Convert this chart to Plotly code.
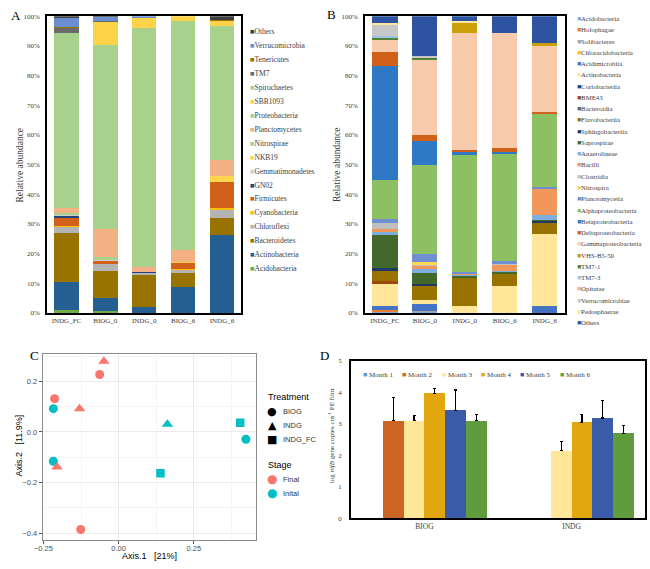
import plotly.graph_objects as go

W, H = 650, 569
SERIF = "Liberation Serif, Times New Roman, serif"
SANS = "Liberation Sans, Arial, sans-serif"
TXT = "#404040"

SAMPLES = ["INDG_FC", "BIOG_0", "INDG_0", "BIOG_6", "INDG_6"]

# ---- panel A: phylum level, relative abundance (%), listed bottom -> top of stack
PHYLA = ["Acidobacteria", "Actinobacteria", "Bacteroidetes", "Chloroflexi", "Cyanobacteria",
         "Firmicutes", "GN02", "Gemmatimonadetes", "NKB19", "Nitrospirae", "Planctomycetes",
         "Proteobacteria", "SBR1093", "Spirochaetes", "TM7", "Tenericutes", "Verrucomicrobia",
         "Others"]
PHYLA_COLORS = ["#70AD47", "#255E91", "#997300", "#B4B4B4", "#FFC000",
                "#D0601A", "#264478", "#CFCFCF", "#FFD54F", "#A9D18E", "#F4B183",
                "#A9D18E", "#FFD347", "#A9D18E", "#6B6B6B", "#997300", "#6A8ED0",
                "#404040"]
A_INDG_FC = [1.0, 9.3, 16.7, 2.0, 0.5, 2.8, 0.5, 0.3, 0.2, 0.3, 1.7, 58.6, 0.2, 0.3, 1.8, 0.2, 3.2, 0.6]
A_BIOG_0 = [0.5, 4.5, 9.2, 2.2, 0.0, 1.1, 0.2, 0.2, 0.0, 1.0, 9.5, 62.0, 7.9, 0.0, 0.3, 0.0, 1.3, 0.3]
A_INDG_0 = [0.0, 2.0, 10.9, 0.5, 0.0, 0.3, 0.2, 0.0, 0.0, 0.0, 1.6, 80.5, 3.3, 0.0, 0.0, 0.0, 0.7, 0.0]
A_BIOG_6 = [0.0, 8.6, 4.8, 1.1, 0.3, 2.0, 0.0, 0.3, 0.2, 0.0, 4.0, 77.2, 1.5, 0.0, 0.0, 0.0, 0.0, 0.0]
A_INDG_6 = [0.0, 26.2, 5.8, 2.6, 0.7, 8.9, 0.0, 0.0, 2.0, 0.0, 5.2, 45.2, 1.9, 0.0, 0.0, 0.3, 0.0, 1.2]

# ---- panel B: class level, bottom -> top of stack
CLASSES = ["Acidobacteria", "Holophagae", "Solibacteres", "Chloracidobacteria", "Acidimicrobiia",
           "Actinobacteria", "Coriobacteriia", "BME43", "Bacteroidia", "Flavobacteriia",
           "Sphingobacteriia", "Saprospirae", "Anaerolineae", "Bacilli", "Clostridia",
           "Nitrospira", "Planctomycetia", "Alphaproteobacteria", "Betaproteobacteria",
           "Deltaproteobacteria", "Gammaproteobacteria", "VHS-B5-50", "TM7-1", "TM7-3",
           "Opitutae", "Verrucomicrobiae", "Pedosphaerae", "Others"]
CLASS_COLORS = ["#7DAEDC", "#ED7D31", "#A5A5A5", "#FFC000", "#4472C4",
                "#FFE699", "#264478", "#9E480E", "#636363", "#997300",
                "#1F3864", "#43682B", "#7DAFDE", "#F1975A", "#BFBFBF",
                "#FFD54F", "#6F8FD0", "#8CC063", "#2F78C4",
                "#D0601A", "#F8CBAD", "#C9A00A", "#548235", "#9DC3E6",
                "#F4B183", "#C8C8C8", "#FFE699", "#2E54A1"]
B_INDG_FC = [0.3, 0.7, 0.0, 0.0, 1.4, 7.2, 0.0, 1.1, 0.0, 3.5, 0.9, 11.1, 0.9, 1.1, 2.2, 0.0,
             1.4, 13.0, 38.3, 4.7, 4.0, 0.0, 1.1, 0.3, 0.0, 3.9, 0.5, 2.4]
B_BIOG_0 = [0.4, 0.0, 0.3, 0.0, 2.3, 1.3, 0.0, 0.0, 0.0, 4.8, 0.8, 3.7, 1.3, 1.1, 0.3, 0.9,
            2.7, 30.0, 8.3, 1.9, 25.5, 0.0, 0.5, 0.0, 0.0, 0.7, 0.0, 13.5]
B_INDG_0 = [0.0, 0.0, 0.0, 0.0, 0.0, 2.2, 0.0, 0.0, 0.0, 9.6, 0.0, 0.7, 0.3, 0.2, 0.0, 0.0,
            0.9, 39.4, 1.1, 0.5, 39.4, 3.6, 0.0, 0.0, 0.0, 0.0, 0.5, 1.7]
B_BIOG_6 = [0.0, 0.0, 0.0, 0.0, 0.0, 8.9, 0.0, 0.0, 0.0, 4.1, 0.0, 0.8, 0.4, 2.0, 0.4, 0.0,
            0.9, 36.2, 0.6, 1.1, 39.0, 0.0, 0.0, 0.0, 0.0, 0.0, 0.0, 5.6]
B_INDG_6 = [0.0, 0.0, 0.0, 0.0, 2.4, 24.2, 0.0, 0.0, 0.0, 3.9, 0.6, 0.4, 1.4, 8.9, 0.0, 0.0,
            0.8, 24.6, 0.0, 0.7, 22.1, 1.1, 0.0, 0.0, 0.0, 0.0, 0.0, 9.1]

# ---- panel C: PCoA
PC_TREATMENT = ["INDG", "BIOG", "BIOG", "BIOG", "INDG", "INDG",
                "INDG_FC", "BIOG", "BIOG", "INDG", "INDG_FC", "BIOG"]
PC_STAGE = ["Final", "Final", "Final", "Inital", "Final", "Inital",
            "Inital", "Inital", "Inital", "Final", "Inital", "Final"]
PC_AXIS1 = [-0.049, -0.063, -0.213, -0.217, -0.130, 0.162, 0.404, 0.423, -0.217, -0.205, 0.139, -0.126]
PC_AXIS2 = [0.279, 0.227, 0.131, 0.092, 0.092, 0.030, 0.036, -0.029, -0.116, -0.139, -0.163, -0.386]

# ---- panel D: nifB copies
D_GROUPS = ["BIOG", "INDG"]
MONTHS = ["Month 1", "Month 2", "Month 3", "Month 4", "Month 5", "Month 6"]
MONTH_COLORS = ["#5B9BD5", "#CC6424", "#FFE699", "#E2A70F", "#3A5CA8", "#609B3E"]
D_BIOG_MEAN = [None, 3.10, 3.10, 3.97, 3.42, 3.10]
D_BIOG_ERR = [None, 0.74, 0.15, 0.15, 0.65, 0.20]
D_INDG_MEAN = [None, None, 2.15, 3.04, 3.18, 2.69]
D_INDG_ERR = [None, None, 0.28, 0.24, 0.56, 0.26]


def px(x):
    return x / W


def py(y):
    return 1 - y / H


def pct(sample):
    total = sum(sample)
    return [v / total * 100 for v in sample]


fig = go.Figure()

# stacked bars A and B
for cols, names, colors, xa, ya in [
    ([pct(s) for s in (A_INDG_FC, A_BIOG_0, A_INDG_0, A_BIOG_6, A_INDG_6)], PHYLA, PHYLA_COLORS, "x", "y"),
    ([pct(s) for s in (B_INDG_FC, B_BIOG_0, B_INDG_0, B_BIOG_6, B_INDG_6)], CLASSES, CLASS_COLORS, "x2", "y2"),
]:
    for i, (name, color) in enumerate(zip(names, colors)):
        fig.add_bar(x=SAMPLES, y=[c[i] for c in cols], name=name, width=0.63,
                    marker=dict(color=color, line_width=0), xaxis=xa, yaxis=ya, showlegend=False)

# PCoA scatter
SYMBOLS = {"BIOG": ("circle", 9), "INDG": ("triangle-up", 10), "INDG_FC": ("square", 8.5)}
STAGE_COLORS = {"Final": "#F8766D", "Inital": "#00BFC4"}
for t, (sym, size) in SYMBOLS.items():
    for s, color in STAGE_COLORS.items():
        idx = [k for k in range(len(PC_AXIS1)) if PC_TREATMENT[k] == t and PC_STAGE[k] == s]
        if not idx:
            continue
        fig.add_scatter(x=[PC_AXIS1[k] for k in idx], y=[PC_AXIS2[k] for k in idx], mode="markers",
                        marker=dict(symbol=sym, size=size, color=color, line_width=0),
                        xaxis="x3", yaxis="y3", showlegend=False)

# grouped bars D (one offsetgroup per month)
for i, (m, color) in enumerate(zip(MONTHS, MONTH_COLORS)):
    fig.add_bar(x=D_GROUPS, y=[D_BIOG_MEAN[i], D_INDG_MEAN[i]], name=m, offsetgroup=m,
                marker=dict(color=color, line_width=0),
                error_y=dict(type="data", array=[D_BIOG_ERR[i], D_INDG_ERR[i]], arrayminus=[0, 0],
                             symmetric=False, color="black", thickness=1.2, width=1.5),
                xaxis="x4", yaxis="y4", showlegend=False)

box = dict(showline=True, mirror=True, linecolor="black", linewidth=1.5,
           zeroline=False, showgrid=False, ticks="")
serif_tick = dict(family=SERIF, size=7, color=TXT)
ggrid = dict(showline=True, mirror=True, linecolor="#8C8C8C", linewidth=1.3, zeroline=False,
             showgrid=True, gridcolor="#EBEBEB", gridwidth=1, ticks="outside", ticklen=3,
             tickcolor="#555555", tickfont=dict(family=SANS, size=7.5, color="#4D4D4D"))

fig.update_layout(
    width=W, height=H, margin=dict(l=0, r=0, t=0, b=0, pad=0),
    paper_bgcolor="white", plot_bgcolor="white", showlegend=False,
    barmode="stack", bargap=0.15, bargroupgap=0,
    xaxis=dict(domain=[px(38.5), px(235.7)], anchor="y", tickfont=serif_tick, **box),
    yaxis=dict(domain=[py(313.3), py(12.3)], anchor="x", range=[0, 100], dtick=10, ticksuffix="%",
               tickfont=serif_tick, ticklabelstandoff=4, **box),
    xaxis2=dict(domain=[px(361), px(563.5)], anchor="y2", tickfont=serif_tick, **box),
    yaxis2=dict(domain=[py(313.3), py(12.3)], anchor="x2", range=[0, 100], dtick=10, ticksuffix="%",
                tickfont=serif_tick, ticklabelstandoff=4, **box),
    xaxis3=dict(domain=[px(34.3), px(250)], anchor="y3", range=[-0.252, 0.455], dtick=0.25, tick0=0,
                tickformat=".2f", ticklabelstandoff=-2,
                minor=dict(dtick=0.125, tick0=0, showgrid=True, gridcolor="#F5F5F5"), **ggrid),
    yaxis3=dict(domain=[py(543.3), py(355)], anchor="x3", range=[-0.426, 0.308], dtick=0.2, tick0=0,
                tickformat=".1f", minor=dict(dtick=0.1, tick0=0, showgrid=True, gridcolor="#F5F5F5"),
                **ggrid),
    xaxis4=dict(domain=[px(346.7), px(645)], anchor="y4", tickfont=dict(family=SERIF, size=7.5, color=TXT),
                **box),
    yaxis4=dict(domain=[py(521.7), py(361.7)], anchor="x4", range=[0, 5], dtick=1,
                tickfont=serif_tick, ticklabelstandoff=6, **box),
)

ann = []


def text(x, y, s, size, family=SERIF, color=TXT, angle=0, xanchor="center"):
    ann.append(dict(x=px(x), y=py(y), xref="paper", yref="paper", text=s, showarrow=False,
                    font=dict(family=family, size=size, color=color), textangle=angle,
                    xanchor=xanchor, yanchor="middle"))


# panel letters
for letter, x, y in [("A", 7, 12), ("B", 327, 11), ("C", 26, 357), ("D", 320, 357)]:
    text(x, y, letter, 13, color="black")

# axis titles
text(11, 163, "Relative abundance", 9.5, angle=-90)
text(332, 163, "Relative abundance", 9.5, angle=-90)
text(10, 448, "Axis.2\u00a0\u00a0\u00a0[11.9%]", 9, family=SANS, color="black", angle=-90)
text(142, 560, "Axis.1\u00a0\u00a0\u00a0[21%]", 9, family=SANS, color="black")
text(327, 438, "log <i>nifB</i> gene copies cm<sup>-1</sup> PE film", 7, angle=-90)

# legend A (top entry = top of stack)
for i, (name, color) in enumerate(zip(PHYLA[::-1], PHYLA_COLORS[::-1])):
    text(242.5, 28.3 + i * 14.12, f"<span style='color:{color}'>\u25a0</span>{name}", 7.5, xanchor="left")

# legend B (top entry = bottom of stack)
for i, (name, color) in enumerate(zip(CLASSES, CLASS_COLORS)):
    text(574, 14.7 + i * 11.43, f"<span style='color:{color}'>\u25a0</span>{name}", 6.8, xanchor="left")

# legend D
for i, (m, color) in enumerate(zip(MONTHS, MONTH_COLORS)):
    text(357 + i * 39.9, 376.7, f"<span style='color:{color}'>\u25a0</span> {m}", 7, xanchor="left")

# legend C
text(261, 399, "Treatment", 9, family=SANS, color="black", xanchor="left")
for i, (t, glyph) in enumerate([("BIOG", "\u25cf"), ("INDG", "\u25b2"), ("INDG_FC", "\u25a0")]):
    yy = 413.3 + i * 14.3
    text(266.7, yy, glyph, 11, family="DejaVu Sans", color="black")
    text(276, yy, t, 7.5, family=SANS, color="#333333", xanchor="left")
text(261, 467.7, "Stage", 9, family=SANS, color="black", xanchor="left")
for i, (s, color) in enumerate(STAGE_COLORS.items()):
    yy = 482 + i * 14.3
    text(266.7, yy, "\u25cf", 12, family="DejaVu Sans", color=color)
    text(276, yy, s, 7.5, family=SANS, color="#333333", xanchor="left")

fig.update_layout(annotations=ann)
# page body margin would otherwise push the figure 8px in
fig.write_html("out.html", config={"displayModeBar": False},
               post_script="document.body.style.margin='0';")
